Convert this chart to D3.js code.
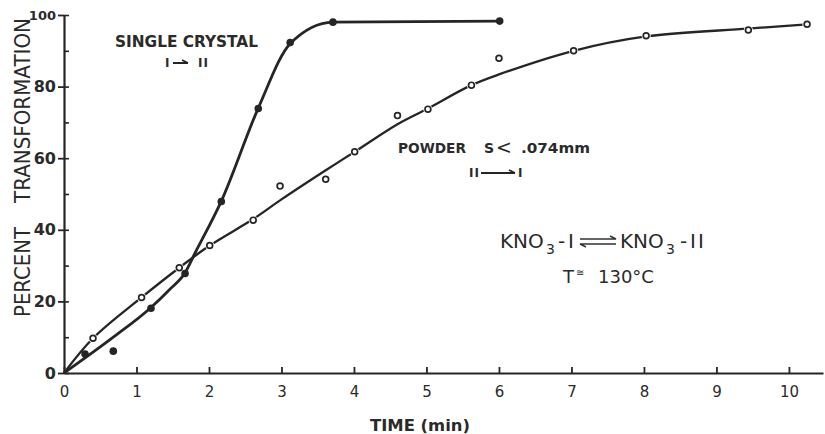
<!DOCTYPE html>
<html>
<head>
<meta charset="utf-8">
<script src="https://cdn.jsdelivr.net/npm/d3@7"></script>
<style>
  html, body { margin: 0; padding: 0; background: #fff; }
  svg { display: block; }
  text { font-family: "DejaVu Sans", sans-serif; fill: #2a2a2a; }
</style>
</head>
<body>
<svg id="chart" width="825" height="434"></svg>
<script>
// ---- data ----
const xTickValues = [0, 1, 2, 3, 4, 5, 6, 7, 8, 9, 10];
const yTickValues = [0, 20, 40, 60, 80, 100];
const yMinorTicks = [10, 30, 50, 70, 90];

// Single crystal I -> II (filled dots)
const crystalTime    = [0.29, 0.68, 1.20, 1.67, 2.17, 2.68, 3.12, 3.71, 6.01];
const crystalPercent = [5.3,  6.1,  18.1, 27.8, 47.9, 73.9, 92.3, 98.0, 98.3];
// hand-drawn curve through the single crystal data
const crystalCurveTime    = [0, 0.68, 1.20, 1.45, 1.67, 1.80, 2.17, 2.68, 3.12, 3.71, 6.01];
const crystalCurvePercent = [0, 10.0, 18.3, 23.2, 28.0, 33.2, 48.0, 74.0, 92.0, 98.0, 98.3];

// Powder II -> I (open circles)
const powderTime    = [0.40, 1.07, 1.59, 2.01, 2.61, 2.98, 3.61, 4.01, 4.60, 5.02, 5.62, 6.00, 7.03, 8.03, 9.44, 10.25];
const powderPercent = [9.7,  21.1, 29.4, 35.6, 42.7, 52.2, 54.1, 61.8, 71.9, 73.7, 80.4, 87.9, 90.0, 94.2, 95.8, 97.4];
// hand-drawn curve through the powder data
const powderCurveTime    = [0, 0.40, 1.07, 1.59, 2.01, 2.61, 3.00, 3.60, 4.01, 4.60, 5.02, 5.62, 6.00, 7.03, 8.03, 9.44, 10.25];
const powderCurvePercent = [0, 9.7,  21.1, 29.4, 35.6, 43.0, 48.5, 56.5, 61.8, 69.5, 73.9, 80.4, 83.4, 90.0, 94.0, 96.2, 97.4];

// ---- drawing ----
const svg = d3.select("#chart");
const ink = "#252525";

const x = d3.scaleLinear().domain([0, 10.47]).range([64, 823]);
const y = d3.scaleLinear().domain([0, 100]).range([373, 15]);

// x axis (ticks pointing inward/up)
const xAxis = svg.append("g")
  .attr("transform", `translate(0,${y(0)})`)
  .call(d3.axisBottom(x).tickValues(xTickValues).tickSizeInner(-6).tickSizeOuter(0).tickPadding(13)
        .tickFormat(d3.format("d")));
xAxis.select(".domain").attr("stroke", ink).attr("stroke-width", 2.2);
xAxis.selectAll(".tick line").attr("stroke", ink).attr("stroke-width", 1.8);
xAxis.selectAll(".tick text").attr("font-size", 15).attr("font-family", "DejaVu Sans").attr("fill", "#2a2a2a");

// y axis: major ticks crossing the axis, minor ticks inside
const yAxis = svg.append("g")
  .attr("transform", `translate(${x(0)},0)`)
  .call(d3.axisLeft(y).tickValues(yTickValues).tickSizeInner(6).tickSizeOuter(0).tickPadding(2)
        .tickFormat(d3.format("d")));
yAxis.select(".domain").attr("stroke", ink).attr("stroke-width", 2.2);
yAxis.selectAll(".tick line").attr("stroke", ink).attr("stroke-width", 1.8);
yAxis.selectAll(".tick text")
  .attr("font-size", d => d === 100 ? 13 : 16)
  .attr("font-weight", "bold")
  .attr("font-family", "DejaVu Sans")
  .attr("fill", "#2a2a2a");

const yInner = svg.append("g")
  .attr("transform", `translate(${x(0)},0)`)
  .call(d3.axisLeft(y).tickValues(yTickValues.concat(yMinorTicks)).tickSizeInner(-5).tickSizeOuter(0).tickFormat(""));
yInner.select(".domain").remove();
yInner.selectAll(".tick line").attr("stroke", ink).attr("stroke-width", 1.6);

// curves
const crystalCurve = crystalCurveTime.map((t, i) => [t, crystalCurvePercent[i]]);
const powderCurve = powderCurveTime.map((t, i) => [t, powderCurvePercent[i]]);

svg.append("path")
  .datum(powderCurve)
  .attr("fill", "none").attr("stroke", ink).attr("stroke-width", 2.3)
  .attr("d", d3.line().x(d => x(d[0])).y(d => y(d[1])).curve(d3.curveCatmullRom.alpha(0.5)));

svg.append("path")
  .datum(crystalCurve)
  .attr("fill", "none").attr("stroke", ink).attr("stroke-width", 2.8)
  .attr("d", d3.line().x(d => x(d[0])).y(d => y(d[1])).curve(d3.curveMonotoneX));

// markers
const powderPts = powderTime.map((t, i) => [t, powderPercent[i]]);
const crystalPts = crystalTime.map((t, i) => [t, crystalPercent[i]]);

svg.append("g").selectAll("circle.halo").data(powderPts).join("circle")
  .attr("cx", d => x(d[0])).attr("cy", d => y(d[1])).attr("r", 4.6).attr("fill", "#fff");

svg.append("g").selectAll("circle").data(crystalPts).join("circle")
  .attr("cx", d => x(d[0])).attr("cy", d => y(d[1])).attr("r", 3.8).attr("fill", ink);

svg.append("g").selectAll("circle").data(powderPts).join("circle")
  .attr("cx", d => x(d[0])).attr("cy", d => y(d[1])).attr("r", 2.9)
  .attr("fill", "#fff").attr("stroke", ink).attr("stroke-width", 1.7);

// axis titles (rotated, squeezed along the text direction to the reference length)
function verticalLabel(str, baseX, bottomY, len, size) {
  const t = svg.append("text").attr("font-size", size).text(str);
  const w = t.node().getComputedTextLength();
  t.attr("transform", `translate(${baseX},${bottomY}) rotate(-90) scale(${len / w},1)`);
}
verticalLabel("PERCENT", 30, 317, 90, 22);
verticalLabel("TRANSFORMATION", 30, 203, 185, 22);

svg.append("text").attr("x", 370).attr("y", 431)
  .attr("font-size", 15).attr("font-weight", "bold").attr("textLength", 100).attr("lengthAdjust", "spacingAndGlyphs")
  .text("TIME (min)");

// annotations
svg.append("text").attr("x", 115).attr("y", 47)
  .attr("font-size", 15).attr("font-weight", "bold").attr("textLength", 143).attr("lengthAdjust", "spacingAndGlyphs")
  .text("SINGLE CRYSTAL");

function arrow(x1, x2, yy) {
  svg.append("path")
    .attr("d", `M${x1},${yy} L${x2},${yy} M${x2 - 6},${yy - 3} L${x2},${yy}`)
    .attr("fill", "none").attr("stroke", ink).attr("stroke-width", 1.8);
}
svg.append("text").attr("x", 165).attr("y", 67).attr("font-size", 12).attr("font-weight", "bold").text("I");
arrow(173, 188, 63);
svg.append("text").attr("x", 198).attr("y", 67).attr("font-size", 12).attr("font-weight", "bold")
  .attr("letter-spacing", 1).text("II");

svg.append("text").attr("x", 398).attr("y", 153)
  .attr("font-size", 14).attr("font-weight", "bold").attr("textLength", 68).attr("lengthAdjust", "spacingAndGlyphs")
  .text("POWDER");
svg.append("text").attr("x", 484).attr("y", 153).attr("font-size", 14).attr("font-weight", "bold").text("S");
svg.append("text").attr("x", 496).attr("y", 154).attr("font-size", 19).text("<");
svg.append("text").attr("x", 521).attr("y", 153)
  .attr("font-size", 14).attr("font-weight", "bold").attr("textLength", 69).attr("lengthAdjust", "spacingAndGlyphs")
  .text(".074mm");

svg.append("text").attr("x", 469).attr("y", 177).attr("font-size", 12).attr("font-weight", "bold")
  .attr("letter-spacing", 1).text("II");
arrow(481, 515, 173);
svg.append("text").attr("x", 518).attr("y", 177).attr("font-size", 12).attr("font-weight", "bold").text("I");

// KNO3-I <=> KNO3-II
const eqY = 248;
svg.append("text").attr("x", 500).attr("y", eqY).attr("font-size", 20).text("KNO");
svg.append("text").attr("x", 546).attr("y", eqY + 6).attr("font-size", 14).text("3");
svg.append("text").attr("x", 558).attr("y", eqY).attr("font-size", 20).text("-");
svg.append("text").attr("x", 568).attr("y", eqY).attr("font-size", 20).text("I");
svg.append("path")
  .attr("d", `M580,${eqY - 9} L616,${eqY - 9} L610,${eqY - 12} M616,${eqY - 4} L580,${eqY - 4} L586,${eqY - 1}`)
  .attr("fill", "none").attr("stroke", "#333").attr("stroke-width", 1.5);
svg.append("text").attr("x", 620).attr("y", eqY).attr("font-size", 20).text("KNO");
svg.append("text").attr("x", 666).attr("y", eqY + 6).attr("font-size", 14).text("3");
svg.append("text").attr("x", 680).attr("y", eqY).attr("font-size", 20).text("-");
svg.append("text").attr("x", 690).attr("y", eqY).attr("font-size", 20).attr("letter-spacing", 2).text("II");

svg.append("text").attr("x", 563).attr("y", 283).attr("font-size", 18).text("T");
svg.append("text").attr("x", 576).attr("y", 276).attr("font-size", 10).text("≅");
svg.append("text").attr("x", 598).attr("y", 283).attr("font-size", 18).text("130°C");
</script>
</body>
</html>
